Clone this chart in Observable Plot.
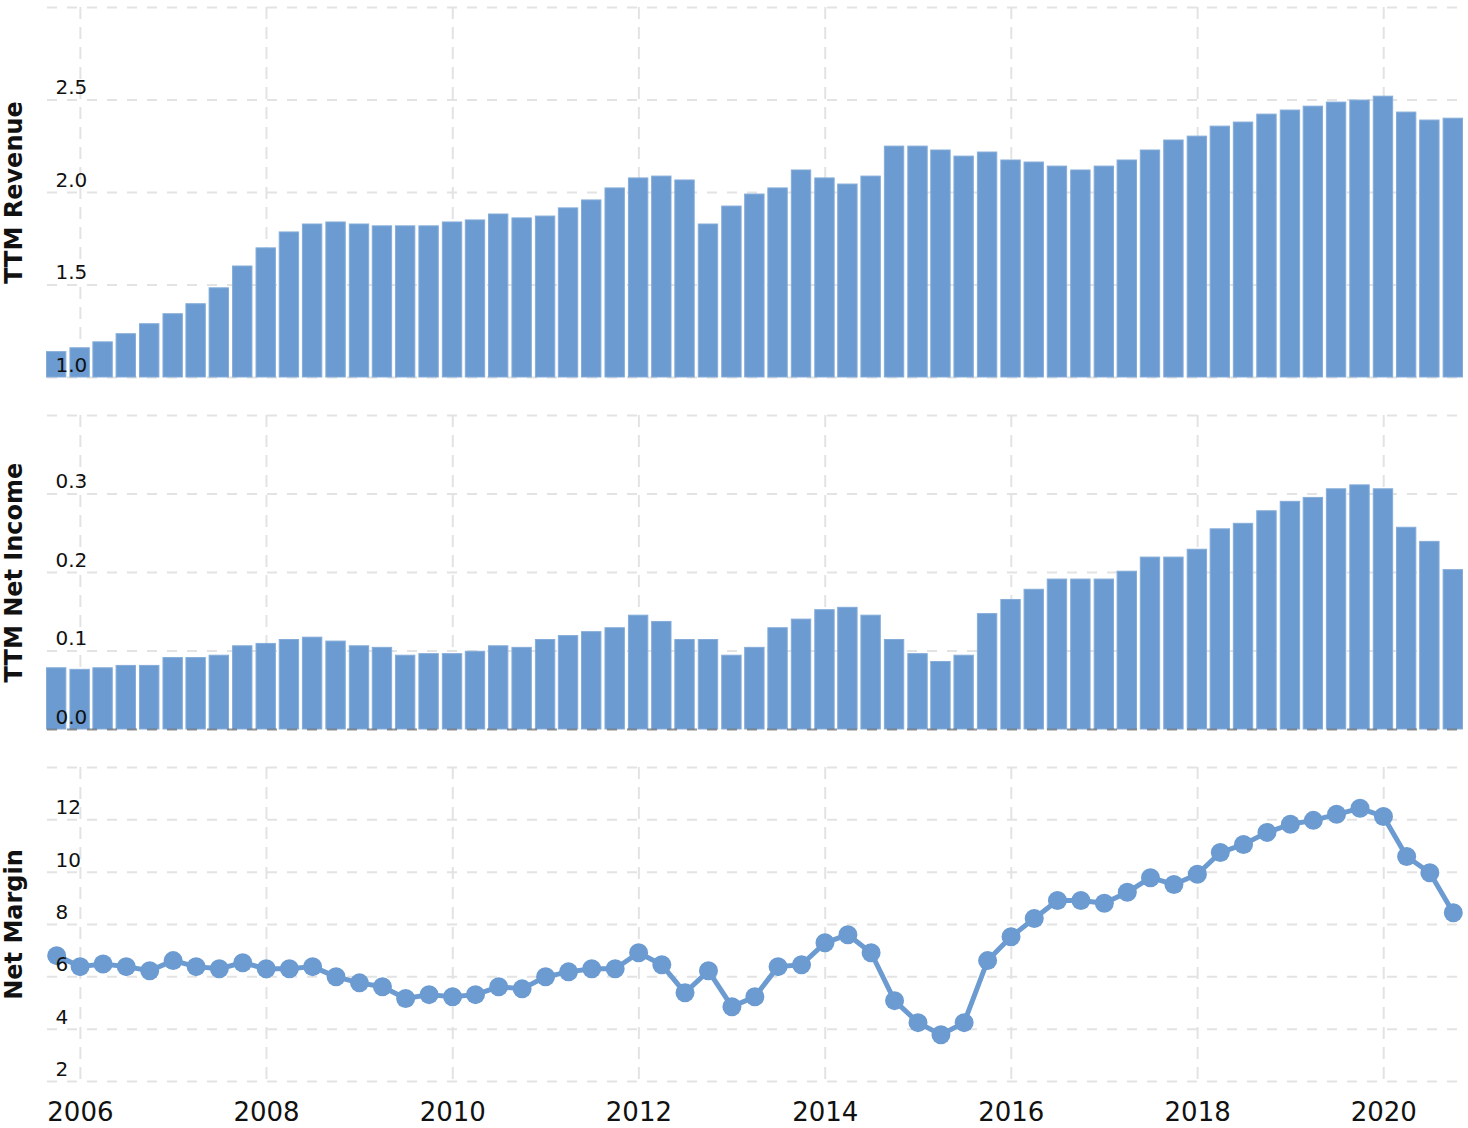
<!DOCTYPE html>
<html>
<head>
<meta charset="utf-8">
<script src="https://cdn.jsdelivr.net/npm/d3@7"></script>
<script src="https://cdn.jsdelivr.net/npm/@observablehq/plot@0.6"></script>
<style>
  html, body { margin: 0; padding: 0; background: #fff; }
  #chart svg { display: block; }
</style>
</head>
<body>
<div id="chart"></div>
<script>
// ---- Data (quarter-end dates, TTM values) ----
const quarters = [
  "2005-09-30","2005-12-31","2006-03-31","2006-06-30","2006-09-30","2006-12-31",
  "2007-03-31","2007-06-30","2007-09-30","2007-12-31","2008-03-31","2008-06-30",
  "2008-09-30","2008-12-31","2009-03-31","2009-06-30","2009-09-30","2009-12-31",
  "2010-03-31","2010-06-30","2010-09-30","2010-12-31","2011-03-31","2011-06-30",
  "2011-09-30","2011-12-31","2012-03-31","2012-06-30","2012-09-30","2012-12-31",
  "2013-03-31","2013-06-30","2013-09-30","2013-12-31","2014-03-31","2014-06-30",
  "2014-09-30","2014-12-31","2015-03-31","2015-06-30","2015-09-30","2015-12-31",
  "2016-03-31","2016-06-30","2016-09-30","2016-12-31","2017-03-31","2017-06-30",
  "2017-09-30","2017-12-31","2018-03-31","2018-06-30","2018-09-30","2018-12-31",
  "2019-03-31","2019-06-30","2019-09-30","2019-12-31","2020-03-31","2020-06-30",
  "2020-09-30"
];
const revenue = [
  1.137,1.158,1.190,1.234,1.288,1.342,1.396,1.482,1.600,1.698,
  1.784,1.827,1.838,1.827,1.817,1.817,1.817,1.838,1.849,1.881,
  1.860,1.870,1.914,1.957,2.022,2.076,2.086,2.065,1.827,1.924,
  1.989,2.022,2.119,2.076,2.043,2.086,2.248,2.248,2.227,2.194,
  2.216,2.173,2.162,2.140,2.119,2.140,2.173,2.227,2.281,2.302,
  2.356,2.378,2.421,2.443,2.464,2.486,2.497,2.518,2.432,2.389,2.399
];
const netIncome = [
  0.078,0.076,0.078,0.081,0.081,0.091,0.091,0.094,0.106,0.109,
  0.114,0.117,0.112,0.106,0.104,0.094,0.096,0.096,0.099,0.106,
  0.104,0.114,0.119,0.124,0.129,0.145,0.137,0.114,0.114,0.094,
  0.104,0.129,0.140,0.152,0.155,0.145,0.114,0.096,0.086,0.094,
  0.147,0.165,0.178,0.191,0.191,0.191,0.201,0.219,0.219,0.229,
  0.255,0.262,0.278,0.290,0.295,0.306,0.311,0.306,0.257,0.239,0.203
];
const netMargin = [
  6.81,6.39,6.49,6.39,6.23,6.62,6.39,6.31,6.54,6.31,
  6.31,6.39,6.00,5.77,5.62,5.17,5.32,5.24,5.32,5.62,
  5.54,6.00,6.19,6.31,6.31,6.92,6.46,5.39,6.23,4.86,
  5.24,6.39,6.46,7.30,7.61,6.92,5.09,4.25,3.79,4.25,
  6.62,7.53,8.23,8.92,8.92,8.81,9.23,9.79,9.53,9.92,
  10.75,11.06,11.52,11.83,11.98,12.21,12.44,12.13,10.60,9.98,8.45
];
const yearTicks = ["2006","2008","2010","2012","2014","2016","2018","2020"];
const revGrid = [1.0, 1.5, 2.0, 2.5, 3.0];
const revLabels = [1.0, 1.5, 2.0, 2.5];
const niGrid = [0.0, 0.1, 0.2, 0.3, 0.4];
const niLabels = [0.0, 0.1, 0.2, 0.3];
const nmGrid = [2, 4, 6, 8, 10, 12, 14];
const nmLabels = [2, 4, 6, 8, 10, 12];
const titles = ["TTM Revenue", "TTM Net Income", "Net Margin"];

// ---- Build table ----
const rows = quarters.map((q, i) => ({
  date: new Date(q + "T00:00:00Z"),
  revenue: revenue[i],
  netIncome: netIncome[i],
  netMargin: netMargin[i]
}));
const yearDates = yearTicks.map(y => new Date(y + "-01-01T00:00:00Z"));

const BLUE = "#6b9bd1";
const GRID = "#e3e3e3";
const FONT = "'DejaVu Sans', Verdana, sans-serif";
const W = 1468;
const xDomain = [new Date("2005-08-25T00:00:00Z"), new Date("2020-11-09T00:00:00Z")];
const halfBarDays = 38;
const x1 = d => d3.utcDay.offset(d.date, -halfBarDays);
const x2 = d => d3.utcDay.offset(d.date, halfBarDays);

function gridMarks(grid) {
  return [
    Plot.ruleY(grid, {stroke: GRID, strokeWidth: 2, strokeDasharray: "10,10"}),
    Plot.ruleX(yearDates, {stroke: GRID, strokeWidth: 2, strokeDasharray: "12,8"})
  ];
}
function yLabelMarks(labels, fmt) {
  return Plot.text(labels, {
    y: d => d, text: d => fmt(d), frameAnchor: "left", textAnchor: "start",
    lineAnchor: "middle", dx: 8, dy: -12, fontSize: 20, fill: "#111"
  });
}
function titleMark(t) {
  return Plot.text([t], {
    frameAnchor: "left", textAnchor: "middle", lineAnchor: "middle",
    rotate: -90, dx: -33, fontSize: 24, fontWeight: "bold", fill: "#111"
  });
}
const baseStyle = {fontFamily: FONT, background: "#fff", overflow: "visible"};

const f1 = d3.format(".1f");

const p1 = Plot.plot({
  width: W, height: 395,
  marginLeft: 47, marginRight: 5, marginTop: 7, marginBottom: 18,
  style: baseStyle,
  x: {type: "utc", domain: xDomain, axis: null},
  y: {domain: [revGrid[0], revGrid[revGrid.length - 1]], axis: null},
  marks: [
    ...gridMarks(revGrid),
    Plot.rectY(rows, {x1, x2, y1: () => revGrid[0], y2: "revenue", fill: BLUE, stroke: "#85acd9", strokeWidth: 1}),
    yLabelMarks(revLabels, f1),
    titleMark(titles[0])
  ]
});

const p2 = Plot.plot({
  width: W, height: 345,
  marginLeft: 47, marginRight: 5, marginTop: 20, marginBottom: 11,
  style: baseStyle,
  x: {type: "utc", domain: xDomain, axis: null},
  y: {domain: [niGrid[0], niGrid[niGrid.length - 1]], axis: null},
  marks: [
    ...gridMarks(niGrid),
    Plot.rectY(rows, {x1, x2, y1: () => niGrid[0], y2: "netIncome", fill: BLUE, stroke: "#85acd9", strokeWidth: 1}),
    Plot.ruleY([niGrid[0]], {stroke: "#555", strokeOpacity: 0.55, strokeWidth: 2, strokeDasharray: "10,10"}),
    yLabelMarks(niLabels, f1),
    titleMark(titles[1])
  ]
});

const p3 = Plot.plot({
  width: W, height: 388,
  marginLeft: 47, marginRight: 5, marginTop: 27, marginBottom: 47,
  style: baseStyle,
  x: {type: "utc", domain: xDomain, axis: null},
  y: {domain: [nmGrid[0], nmGrid[nmGrid.length - 1]], axis: null},
  marks: [
    ...gridMarks(nmGrid),
    Plot.line(rows, {x: "date", y: "netMargin", stroke: BLUE, strokeWidth: 5}),
    Plot.dot(rows, {x: "date", y: "netMargin", r: 9.5, fill: BLUE, stroke: "none"}),
    yLabelMarks(nmLabels, d3.format("d")),
    titleMark(titles[2]),
    Plot.text(yearDates, {x: d => d, text: d => d.getUTCFullYear().toString(), frameAnchor: "bottom",
      textAnchor: "middle", lineAnchor: "middle", dy: 31, fontSize: 26, fill: "#111"})
  ]
});

const chart = document.getElementById("chart");
chart.append(p1, p2, p3);
</script>
</body>
</html>
